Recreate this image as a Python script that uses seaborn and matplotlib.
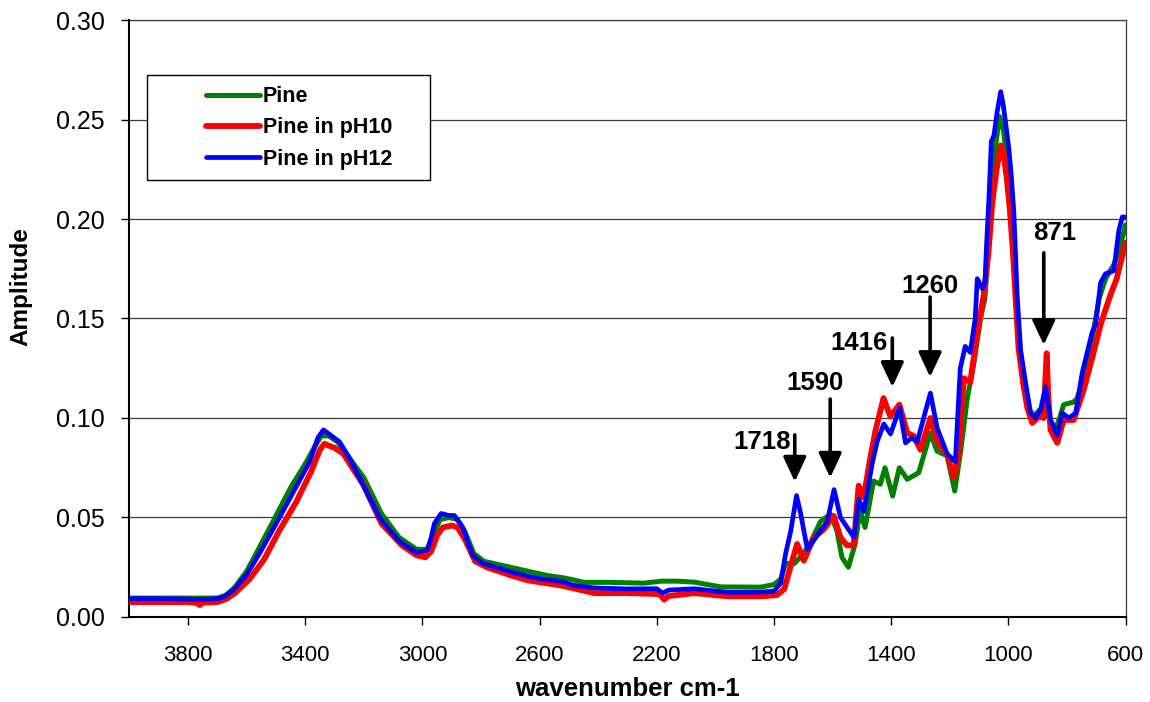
import numpy as np
import pandas as pd
import matplotlib
matplotlib.use("Agg")
import matplotlib.pyplot as plt
from matplotlib.patches import Rectangle
import seaborn as sns

# ---------------- data ----------------
wn_pine = [4000, 3800, 3700, 3670, 3640, 3600, 3560, 3510, 3450, 3400, 3370, 3345, 3320, 3290,
           3250, 3200, 3140, 3080, 3020, 2985, 2960, 2940, 2910, 2880, 2855, 2825, 2790, 2700,
           2640, 2572, 2515, 2447, 2356, 2243, 2186, 2129, 2072, 1981, 1845, 1800, 1777, 1760,
           1732, 1710, 1680, 1641, 1607, 1585, 1568, 1546, 1523, 1506, 1489, 1460, 1437, 1421,
           1395, 1372, 1345, 1306, 1266, 1243, 1209, 1183, 1163, 1140, 1117, 1095, 1080, 1068,
           1058, 1045, 1030, 1017, 1005, 995, 985, 975, 960, 945, 930, 915, 900, 880, 860, 840,
           825, 811, 777, 765, 740, 714, 690, 668, 640, 620, 600]
amp_pine = [0.0095, 0.0095, 0.0095, 0.011, 0.015, 0.023, 0.034, 0.048, 0.065, 0.077, 0.085, 0.091,
            0.091, 0.088, 0.080, 0.070, 0.052, 0.040, 0.034, 0.034, 0.042, 0.049, 0.050, 0.049,
            0.043, 0.032, 0.028, 0.025, 0.023, 0.0208, 0.0196, 0.0174, 0.0174, 0.017, 0.018,
            0.018, 0.0175, 0.0151, 0.015, 0.0163, 0.019, 0.027, 0.0267, 0.030, 0.036, 0.048,
            0.0517, 0.0433, 0.030, 0.025, 0.0367, 0.0533, 0.045, 0.0683, 0.0667, 0.075, 0.0608,
            0.075, 0.0692, 0.0725, 0.0925, 0.0833, 0.081, 0.0633, 0.083, 0.110, 0.128, 0.150,
            0.160, 0.185, 0.215, 0.235, 0.2515, 0.245, 0.230, 0.215, 0.195, 0.165, 0.135, 0.118,
            0.105, 0.101, 0.103, 0.106, 0.100, 0.094, 0.100, 0.1067, 0.108, 0.110, 0.122, 0.140,
            0.160, 0.170, 0.177, 0.185, 0.197]

wn_ph10 = [4000, 3800, 3770, 3760, 3750, 3700, 3670, 3640, 3590, 3540, 3490, 3430, 3380, 3350,
           3335, 3300, 3270, 3200, 3140, 3070, 3020, 2990, 2970, 2950, 2930, 2900, 2880, 2855,
           2820, 2780, 2700, 2640, 2526, 2413, 2300, 2190, 2175, 2160, 2072, 1958, 1845, 1790,
           1765, 1744, 1721, 1698, 1664, 1630, 1596, 1573, 1551, 1528, 1511, 1494, 1471, 1454,
           1426, 1403, 1372, 1345, 1323, 1300, 1266, 1243, 1209, 1186, 1169, 1152, 1130, 1107,
           1084, 1068, 1055, 1040, 1026, 1015, 1005, 995, 985, 975, 965, 950, 935, 918, 895,
           880, 875, 869, 864, 856, 833, 811, 777, 743, 714, 685, 651, 630, 617, 600]
amp_ph10 = [0.0075, 0.0075, 0.0070, 0.0060, 0.0072, 0.0075, 0.009, 0.012, 0.019, 0.029, 0.043,
            0.058, 0.073, 0.084, 0.087, 0.085, 0.082, 0.066, 0.047, 0.036, 0.031, 0.030, 0.033,
            0.041, 0.045, 0.046, 0.045, 0.039, 0.028, 0.025, 0.021, 0.0184, 0.0158, 0.012, 0.012,
            0.0115, 0.0087, 0.0105, 0.012, 0.0104, 0.0104, 0.011, 0.014, 0.025, 0.0367, 0.0283,
            0.040, 0.044, 0.0508, 0.040, 0.036, 0.036, 0.066, 0.060, 0.080, 0.0933, 0.110,
            0.1008, 0.1067, 0.0925, 0.091, 0.084, 0.100, 0.088, 0.0817, 0.070, 0.083, 0.120,
            0.118, 0.1417, 0.1617, 0.183, 0.208, 0.225, 0.237, 0.232, 0.220, 0.205, 0.185, 0.160,
            0.135, 0.118, 0.105, 0.0975, 0.101, 0.100, 0.115, 0.1325, 0.112, 0.094, 0.0875,
            0.099, 0.099, 0.114, 0.130, 0.147, 0.162, 0.170, 0.178, 0.188]

wn_ph12 = [4000, 3900, 3800, 3750, 3700, 3680, 3647, 3601, 3556, 3499, 3442, 3385, 3357, 3338,
           3310, 3283, 3250, 3215, 3147, 3079, 3022, 2995, 2982, 2970, 2959, 2936, 2910, 2891,
           2863, 2829, 2795, 2704, 2640, 2590, 2526, 2488, 2413, 2300, 2200, 2180, 2160, 2072,
           1958, 1845, 1800, 1777, 1760, 1743, 1723, 1709, 1686, 1652, 1618, 1595, 1573, 1527,
           1510, 1493, 1465, 1448, 1425, 1402, 1371, 1351, 1330, 1311, 1266, 1243, 1209, 1181,
           1164, 1147, 1130, 1113, 1106, 1089, 1080, 1074, 1066, 1058, 1049, 1038, 1026, 1017,
           1009, 998, 990, 981, 970, 958, 941, 924, 907, 890, 873, 856, 833, 816, 793, 770, 748,
           714, 702, 685, 668, 640, 623, 611, 600]
amp_ph12 = [0.0092, 0.0092, 0.0090, 0.0088, 0.0092, 0.0100, 0.0133, 0.021, 0.032, 0.047, 0.0625,
            0.078, 0.090, 0.094, 0.091, 0.088, 0.080, 0.070, 0.050, 0.038, 0.0325, 0.033, 0.034,
            0.040, 0.047, 0.052, 0.051, 0.051, 0.045, 0.031, 0.027, 0.023, 0.0205, 0.019, 0.018,
            0.016, 0.0146, 0.0141, 0.0142, 0.012, 0.0135, 0.0142, 0.0124, 0.0125, 0.013, 0.017,
            0.032, 0.043, 0.061, 0.052, 0.034, 0.041, 0.048, 0.064, 0.050, 0.040, 0.059, 0.053,
            0.077, 0.088, 0.097, 0.092, 0.105, 0.0875, 0.090, 0.088, 0.1125, 0.095, 0.082, 0.078,
            0.125, 0.136, 0.133, 0.150, 0.170, 0.165, 0.168, 0.188, 0.211, 0.239, 0.242, 0.254,
            0.264, 0.257, 0.248, 0.235, 0.222, 0.203, 0.162, 0.134, 0.1175, 0.1025, 0.100, 0.104,
            0.1157, 0.099, 0.0915, 0.1025, 0.100, 0.1025, 0.1225, 0.143, 0.147, 0.168, 0.1725,
            0.174, 0.194, 0.201, 0.201]

series_names = ["Pine", "Pine in pH10", "Pine in pH12"]
series_colors = ["#008000", "#FF0000", "#0000FF"]

peak_labels = ["1718", "1590", "1416", "1260", "871"]
peak_text_x = [1841, 1661, 1510, 1268, 843]
peak_text_y = [0.0881, 0.1178, 0.1377, 0.1661, 0.193]
arrow_x = [1729, 1608, 1396, 1267, 879]
arrow_top = [0.0915, 0.1095, 0.1402, 0.1608, 0.183]
arrow_tip = [0.068, 0.070, 0.1156, 0.1206, 0.1367]

x_ticks = [3800, 3400, 3000, 2600, 2200, 1800, 1400, 1000, 600]
y_ticks = [0.00, 0.05, 0.10, 0.15, 0.20, 0.25, 0.30]

# ---------------- figure ----------------
sns.set_style("white")
plt.rcParams["font.family"] = ["Liberation Sans", "DejaVu Sans"]
plt.rcParams["text.color"] = "black"
plt.rcParams["axes.labelcolor"] = "black"
plt.rcParams["xtick.color"] = "black"
plt.rcParams["ytick.color"] = "black"

fig = plt.figure(figsize=(11.5, 7.02), dpi=100)
ax = fig.add_axes([0.1126, 0.1211, 0.8661, 0.8504])

frames = [
    pd.DataFrame({"wavenumber": wn_pine, "amplitude": amp_pine}),
    pd.DataFrame({"wavenumber": wn_ph10, "amplitude": amp_ph10}),
    pd.DataFrame({"wavenumber": wn_ph12, "amplitude": amp_ph12}),
]
widths = [3.6, 4.2, 3.4]
for df, name, col, lw in zip(frames, series_names, series_colors, widths):
    sns.lineplot(data=df, x="wavenumber", y="amplitude", ax=ax, color=col,
                 linewidth=lw, label=name, errorbar=None, zorder=3)

ax.set_xlim(4000, 600)
ax.set_ylim(0, 0.30)
ax.set_xticks(x_ticks)
ax.set_xticklabels([str(t) for t in x_ticks])
ax.set_yticks(y_ticks)
ax.set_yticklabels([f"{t:.2f}" for t in y_ticks])

for lab in ax.get_xticklabels():
    lab.set_fontsize(16)
for lab in ax.get_yticklabels():
    lab.set_fontsize(18)

ax.tick_params(axis="both", direction="out", length=6, width=1, color="black",
               labelcolor="black", bottom=True, left=True, pad=12)
ax.tick_params(axis="x", pad=14)
ax.grid(axis="y", color="#3a3a3a", linewidth=0.9, zorder=0)
ax.grid(axis="x", visible=False)
for side in ["left", "bottom"]:
    ax.spines[side].set_color("black")
    ax.spines[side].set_linewidth(1.5)
for side in ["top", "right"]:
    ax.spines[side].set_color("#3a3a3a")
    ax.spines[side].set_linewidth(0.9)

ax.set_xlabel("wavenumber cm-1", fontsize=18.5, fontweight="bold", color="black")
ax.set_ylabel("Amplitude", fontsize=17.5, fontweight="bold", color="black")
ax.xaxis.set_label_coords(0.5, -0.101)
ax.yaxis.set_label_coords(-0.097, 0.553)

# annotations with arrows
for lab, tx, ty, axx, a0, a1 in zip(peak_labels, peak_text_x, peak_text_y,
                                     arrow_x, arrow_top, arrow_tip):
    ax.text(tx, ty, lab, fontsize=18.5, fontweight="bold", ha="center", va="center",
            color="black", zorder=6)
    ax.annotate("", xy=(axx, a1), xytext=(axx, a0),
                arrowprops=dict(arrowstyle="-|>,head_width=0.35,head_length=0.75",
                                mutation_scale=20, lw=2.6, color="black",
                                shrinkA=0, shrinkB=0), zorder=6)

# legend box
ax.add_patch(Rectangle((0.0176, 0.732), 0.284, 0.176, transform=ax.transAxes,
                       facecolor="white", edgecolor="black", linewidth=1.0, zorder=4))
leg = ax.legend(loc="upper left", bbox_to_anchor=(0.0658, 0.907), frameon=False,
                borderpad=0, handlelength=2.5, handletextpad=0.15, labelspacing=0.47,
                prop={"weight": "bold", "size": 15.5})
leg.set_zorder(5)
for t in leg.get_texts():
    t.set_color("black")

fig.savefig("out.png", dpi=100)
